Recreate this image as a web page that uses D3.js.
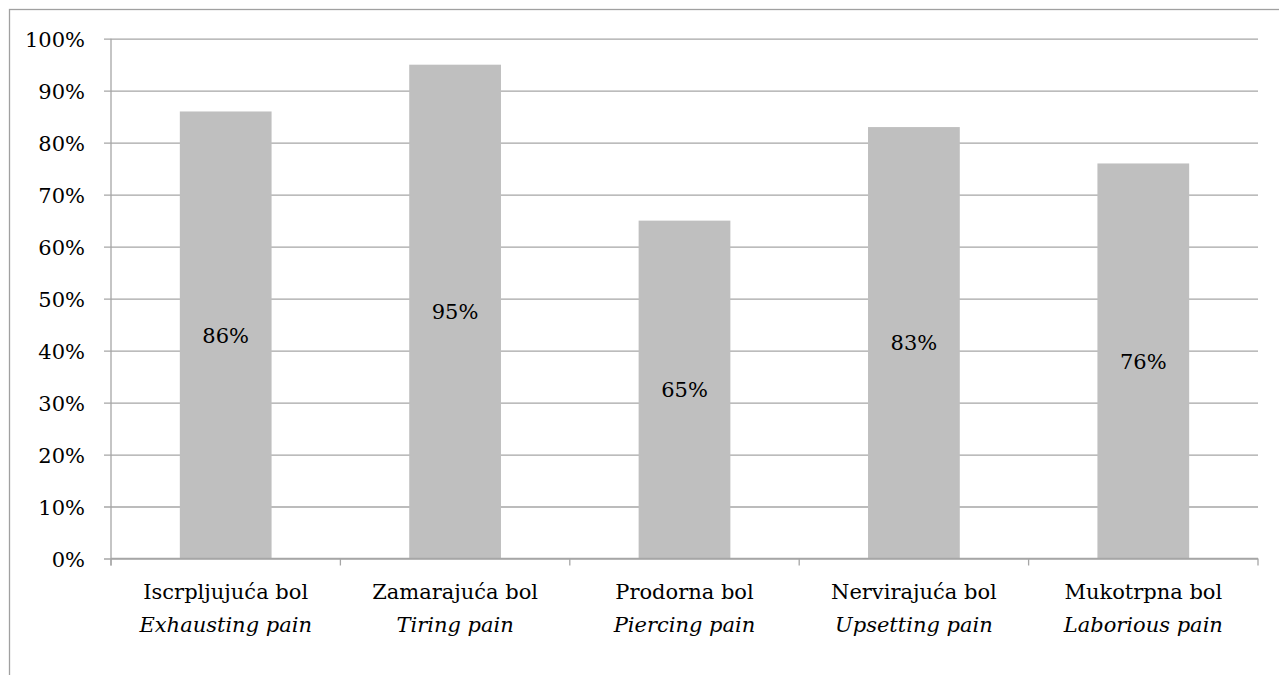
<!DOCTYPE html>
<html>
<head>
<meta charset="utf-8">
<script src="https://cdn.jsdelivr.net/npm/d3@7"></script>
<style>
  html, body { margin: 0; padding: 0; background: #fff; }
  svg { display: block; }
  svg text { font-family: "DejaVu Serif", serif; fill: #000; }
</style>
</head>
<body>
<svg id="chart" width="1279" height="675"></svg>
<script>
// Pain descriptors: local name and English translation
const categories = ["Iscrpljujuća bol", "Zamarajuća bol", "Prodorna bol", "Nervirajuća bol", "Mukotrpna bol"];
const translations = ["Exhausting pain", "Tiring pain", "Piercing pain", "Upsetting pain", "Laborious pain"];
// Share of respondents (%)
const values = [86, 95, 65, 83, 76];
const yTicks = [0, 10, 20, 30, 40, 50, 60, 70, 80, 90, 100];

const svg = d3.select("#chart");
const W = 1279, H = 675;
const plot = { left: 111, right: 1258, top: 38.7, bottom: 558.5 };
const fontSize = "21px";

// Outer frame (runs past the right and bottom edges)
svg.append("rect")
  .attr("x", 9.5).attr("y", 9.5)
  .attr("width", W + 20).attr("height", H + 20)
  .attr("fill", "none").attr("stroke", "#a0a0a0").attr("stroke-width", 1.3);

const x = d3.scaleBand().domain(categories).range([plot.left, plot.right]).paddingInner(0.6).paddingOuter(0.3);
const xBand = d3.scaleBand().domain(categories).range([plot.left, plot.right]);
const y = d3.scaleLinear().domain([0, 100]).range([plot.bottom, plot.top]);

// Horizontal gridlines with short outside ticks
const yAxis = d3.axisLeft(y).tickValues(yTicks).tickSize(-(plot.right - plot.left)).tickFormat(d => d + "%").tickPadding(26);
const gy = svg.append("g").attr("transform", `translate(${plot.left},0)`).call(yAxis);
gy.attr("font-family", null);
gy.select(".domain").remove();
gy.selectAll(".tick line").attr("stroke", "#a6a6a6").attr("stroke-width", 1.3).attr("x1", -7);
gy.selectAll(".tick text").attr("font-size", fontSize).attr("fill", "#000").attr("dy", "0.36em");

// Vertical value axis line
svg.append("line")
  .attr("x1", plot.left).attr("x2", plot.left)
  .attr("y1", plot.top).attr("y2", plot.bottom + 7)
  .attr("stroke", "#a6a6a6").attr("stroke-width", 1.3);

// Bars
svg.append("g").selectAll("rect").data(values).join("rect")
  .attr("x", (d, i) => x(categories[i]))
  .attr("width", x.bandwidth())
  .attr("y", d => y(d))
  .attr("height", d => y(0) - y(d))
  .attr("fill", "#bfbfbf");

// Category axis with tick marks at band boundaries
svg.append("line")
  .attr("x1", plot.left).attr("x2", plot.right)
  .attr("y1", y(0)).attr("y2", y(0))
  .attr("stroke", "#a6a6a6").attr("stroke-width", 1.3);
const bounds = categories.map(c => xBand(c)).concat([plot.right]);
svg.append("g").selectAll("line").data(bounds).join("line")
  .attr("x1", d => d).attr("x2", d => d)
  .attr("y1", y(0)).attr("y2", y(0) + 7)
  .attr("stroke", "#a6a6a6").attr("stroke-width", 1.3);

// Value labels centred in each bar
svg.append("g").selectAll("text").data(values).join("text")
  .attr("x", (d, i) => x(categories[i]) + x.bandwidth() / 2)
  .attr("y", d => (y(d) + y(0)) / 2)
  .attr("dy", "0.36em")
  .attr("text-anchor", "middle")
  .attr("font-size", fontSize)
  .text(d => d + "%");

// Two-line category labels
const labels = svg.append("g").selectAll("g").data(categories).join("g")
  .attr("transform", c => `translate(${xBand(c) + xBand.bandwidth() / 2},0)`);
labels.append("text")
  .attr("y", 599).attr("text-anchor", "middle").attr("font-size", fontSize)
  .text(c => c);
labels.append("text")
  .attr("y", 632).attr("text-anchor", "middle").attr("font-size", fontSize).attr("font-style", "italic")
  .text((c, i) => translations[i]);
</script>
</body>
</html>
